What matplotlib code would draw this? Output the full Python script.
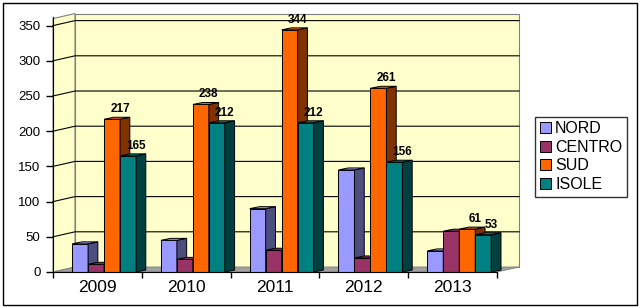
import matplotlib
matplotlib.use('Agg')
import matplotlib.pyplot as plt
from matplotlib.patches import Polygon, Rectangle, Patch

plt.rcParams['font.family'] = ['Liberation Sans', 'DejaVu Sans']

years = ['2009', '2010', '2011', '2012', '2013']
series = ['NORD', 'CENTRO', 'SUD', 'ISOLE']
nord = [40, 45, 90, 145, 30]
centro = [11, 18, 31, 20, 58]
sud = [217, 238, 344, 261, 61]
isole = [165, 212, 212, 156, 53]
values = [nord, centro, sud, isole]
labelled = [False, False, True, True]

front_cols = ['#9999FF', '#993366', '#FF6600', '#008080']
side_cols = ['#4D4D80', '#4D1A33', '#803300', '#004040']

# depth offsets (data units)
wdx, wdy = 0.248, 7.1    # walls
bdx, bdy = 0.11, 2.8     # bars
H = 360
bw = 0.18
off0 = 0.215

fig = plt.figure(figsize=(6.4, 3.07), dpi=100)
ax = fig.add_axes([53/640, 35/307, 444/640, 362*0.704/307])
ax.set_xlim(0, 5)
ax.set_ylim(0, 362)
ax.patch.set_visible(False)

n = len(years)
# walls and floor
ax.add_patch(Polygon([(0, 0), (0, H), (wdx, H + wdy), (wdx, wdy)],
                     closed=True, fc='#FFFFCC', ec='#808080', lw=0.8,
                     zorder=0, clip_on=False))
ax.add_patch(Polygon([(wdx, wdy), (wdx, H + wdy), (n + wdx, H + wdy), (n + wdx, wdy)],
                     closed=True, fc='#FFFFCC', ec='#808080', lw=0.8,
                     zorder=0, clip_on=False))
ax.add_patch(Polygon([(0, 0), (n, 0), (n + wdx, wdy), (wdx, wdy)],
                     closed=True, fc='#A0A0A0', ec='#808080', lw=0.6,
                     zorder=0.5, clip_on=False))

yt = list(range(0, 351, 50))
for v in yt[1:]:
    ax.plot([0, wdx, n + wdx], [v, v + wdy, v + wdy], color='black', lw=0.8,
            zorder=1, clip_on=False)

# bars
z = 2
for i in range(n):
    for k, s in enumerate(values):
        v = s[i]
        x = i + off0 + k * bw
        ax.bar(x, v, bw, align='edge', color=front_cols[k], edgecolor='black',
               lw=0.7, zorder=z)
        ax.add_patch(Polygon([(x + bw, 0), (x + bw + bdx, bdy), (x + bw + bdx, v + bdy), (x + bw, v)],
                             closed=True, fc=side_cols[k], ec='black', lw=0.7,
                             zorder=z, clip_on=False))
        ax.add_patch(Polygon([(x, v), (x + bdx, v + bdy), (x + bw + bdx, v + bdy), (x + bw, v)],
                             closed=True, fc=front_cols[k], ec='black', lw=0.7,
                             zorder=z, clip_on=False))
        if labelled[k]:
            ax.text(x + bw, v + bdy + 3, str(v), ha='center', va='bottom',
                    fontsize=8.5, fontweight='bold', zorder=z + 100)
        z += 0.01

# axes
for sp in ['top', 'right']:
    ax.spines[sp].set_visible(False)
ax.spines['left'].set_zorder(50)
ax.spines['bottom'].set_zorder(50)
ax.set_yticks(yt)
ax.set_yticklabels([str(v) for v in yt], fontsize=9.5)
ax.tick_params(axis='y', direction='out', length=5, width=1, pad=4)
ax.set_xticks(range(n + 1))
ax.set_xticklabels([])
ax.tick_params(axis='x', which='major', direction='out', length=4, width=1)
ax.set_xticks([i + 0.5 for i in range(n)], minor=True)
ax.set_xticklabels(years, minor=True, fontsize=12.5)
ax.tick_params(axis='x', which='minor', length=0, pad=6)

handles = [Patch(fc=front_cols[k], ec='black', lw=0.7) for k in range(len(series))]
leg = fig.legend(handles, series, loc='upper left', bbox_to_anchor=(0.836, 0.62),
                 fontsize=11.5, frameon=True, fancybox=False, edgecolor='black',
                 handlelength=0.7, handleheight=0.7, handletextpad=0.25,
                 labelspacing=0.22, borderpad=0.3, borderaxespad=0)
leg.get_frame().set_linewidth(1)

fig.patches.append(Rectangle((3/640, 2/307), 634/640, 302/307, transform=fig.transFigure,
                             fill=False, ec='black', lw=1))

fig.savefig('out.png', dpi=100)
